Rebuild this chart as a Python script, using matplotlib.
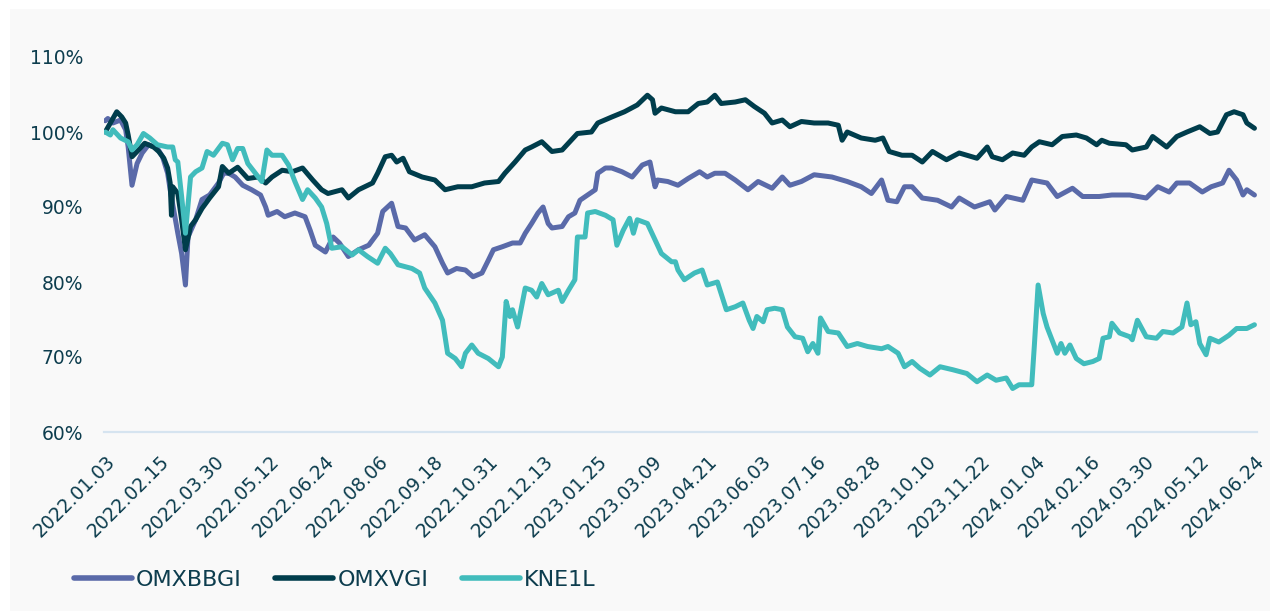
import matplotlib
matplotlib.use('Agg')
import matplotlib.pyplot as plt
from matplotlib.patches import Rectangle
import numpy as np
import pandas as pd

start_date = pd.Timestamp('2022-01-03')

# day offsets from start_date and index level (% of start)
omxbbgi_days = [0, 2, 6, 12, 16, 18, 21, 25, 29, 34, 41, 45, 49, 51, 57, 60, 63, 65, 71, 76,
                82, 89, 93, 97, 102, 108, 115, 122, 126, 128, 135, 141, 149, 157, 161, 165, 173, 179, 184, 191,
                199, 207, 214, 218, 225, 230, 236, 243, 251, 259, 265, 269, 276, 283, 289, 296, 301, 305, 312, 320,
                326, 330, 335, 340, 344, 348, 351, 359, 364, 369, 373, 379, 385, 387, 393, 398, 406, 414, 422, 428,
                432, 434, 442, 450, 458, 467, 473, 479, 487, 495, 505, 513, 524, 532, 538, 547, 557, 571, 583, 594,
                602, 610, 615, 622, 628, 634, 642, 654, 665, 671, 683, 695, 699, 708, 721, 728, 740, 748, 760, 768,
                781, 791, 805, 818, 827, 836, 842, 852, 862, 869, 878, 883, 889, 894, 897, 903]
omxbbgi = [101.5, 101.8, 101.2, 101.6, 100.3, 98.0, 92.9, 95.8, 97.2, 98.3, 97.8, 96.7, 94.5, 92.3, 86.5, 83.8, 79.6, 86.0, 88.3, 91.0,
           91.6, 93.2, 94.5, 94.5, 94.0, 92.9, 92.3, 91.6, 90.0, 88.9, 89.4, 88.7, 89.2, 88.7, 86.9, 84.9, 84.0, 86.0, 85.2, 83.4,
           84.3, 84.9, 86.5, 89.4, 90.5, 87.4, 87.2, 85.6, 86.3, 84.7, 82.5, 81.2, 81.8, 81.6, 80.7, 81.2, 82.9, 84.3, 84.7, 85.2,
           85.2, 86.5, 87.8, 89.2, 90.0, 87.8, 87.2, 87.4, 88.7, 89.2, 90.9, 91.6, 92.3, 94.5, 95.2, 95.2, 94.7, 94.0, 95.6, 96.0,
           92.7, 93.6, 93.4, 92.9, 93.8, 94.7, 94.0, 94.5, 94.5, 93.6, 92.3, 93.4, 92.5, 94.0, 92.9, 93.4, 94.3, 94.0, 93.4, 92.7,
           91.8, 93.6, 90.9, 90.7, 92.7, 92.7, 91.2, 90.9, 90.0, 91.2, 90.0, 90.7, 89.6, 91.4, 90.9, 93.6, 93.2, 91.4, 92.5, 91.4,
           91.4, 91.6, 91.6, 91.2, 92.7, 92.0, 93.2, 93.2, 92.0, 92.7, 93.2, 94.9, 93.6, 91.6, 92.3, 91.6]

omxvgi_days = [0, 4, 9, 13, 16, 18, 21, 25, 31, 38, 42, 46, 49, 51, 52, 53, 57, 60, 63, 67,
               71, 76, 82, 89, 92, 97, 104, 112, 120, 126, 131, 139, 147, 155, 163, 170, 175, 186, 191, 199,
               210, 214, 220, 225, 229, 234, 239, 249, 259, 267, 277, 288, 298, 309, 314, 322, 330, 335, 343, 351,
               359, 365, 371, 382, 387, 398, 408, 418, 426, 430, 432, 437, 448, 458, 466, 473, 479, 484, 495, 503,
               510, 518, 524, 532, 538, 547, 557, 568, 576, 579, 583, 594, 605, 611, 616, 626, 634, 642, 650, 661,
               671, 685, 693, 697, 705, 713, 722, 728, 734, 744, 752, 763, 771, 779, 783, 789, 802, 807, 818, 823,
               834, 842, 850, 860, 868, 874, 881, 887, 894, 897, 903]
omxvgi = [100.0, 101.2, 102.7, 102.0, 101.2, 99.6, 96.7, 97.4, 98.5, 98.0, 97.4, 96.5, 95.2, 93.2, 88.9, 92.7, 91.8, 88.3, 84.3, 87.4,
          88.3, 89.8, 91.2, 92.7, 95.4, 94.5, 95.3, 93.8, 94.0, 93.2, 94.0, 94.9, 94.7, 95.2, 93.6, 92.3, 91.8, 92.3, 91.2, 92.3,
          93.2, 94.5, 96.7, 96.9, 96.0, 96.5, 94.7, 94.0, 93.6, 92.3, 92.7, 92.7, 93.2, 93.4, 94.5, 96.0, 97.6, 98.0, 98.7, 97.4,
          97.6, 98.7, 99.8, 100.0, 101.2, 102.0, 102.7, 103.6, 104.9, 104.3, 102.5, 103.2, 102.7, 102.7, 103.8, 104.0, 104.9, 103.8, 104.0, 104.3,
          103.4, 102.5, 101.2, 101.6, 100.7, 101.4, 101.2, 101.2, 100.9, 98.9, 100.0, 99.2, 98.9, 99.2, 97.4, 96.9, 96.9, 96.0, 97.4, 96.3,
          97.2, 96.5, 98.0, 96.7, 96.3, 97.2, 96.9, 98.0, 98.7, 98.3, 99.4, 99.6, 99.2, 98.3, 98.9, 98.5, 98.3, 97.6, 98.0, 99.4,
          98.0, 99.4, 100.0, 100.7, 99.8, 100.0, 102.3, 102.7, 102.3, 101.2, 100.5]

kne1l_days = [0, 4, 6, 12, 18, 21, 25, 30, 35, 41, 49, 53, 55, 57, 60, 63, 67, 71, 76, 80,
              85, 92, 96, 100, 104, 108, 112, 118, 123, 127, 131, 139, 144, 149, 155, 159, 165, 170, 174, 178,
              186, 194, 199, 206, 214, 220, 224, 230, 241, 247, 251, 259, 265, 269, 275, 280, 283, 288, 293, 301,
              309, 312, 315, 318, 320, 324, 330, 335, 339, 343, 348, 356, 359, 364, 369, 371, 377, 379, 385, 393,
              399, 402, 407, 412, 415, 418, 426, 432, 437, 445, 448, 450, 455, 463, 469, 473, 481, 488, 495, 501,
              506, 509, 512, 517, 520, 526, 532, 536, 542, 548, 552, 556, 560, 562, 568, 576, 583, 591, 599, 610,
              615, 623, 628, 634, 640, 648, 656, 666, 677, 685, 693, 700, 708, 713, 718, 728, 730, 733, 737, 740,
              748, 751, 754, 758, 763, 769, 776, 781, 784, 789, 791, 797, 805, 807, 811, 818, 826, 831, 839, 846,
              850, 853, 857, 860, 865, 868, 875, 883, 889, 897, 903]
kne1l = [100.0, 99.6, 100.3, 99.2, 98.7, 97.6, 98.3, 99.8, 99.2, 98.3, 98.0, 98.0, 96.3, 96.0, 91.4, 86.5, 94.0, 94.7, 95.2, 97.4,
         96.9, 98.5, 98.3, 96.3, 97.8, 97.8, 95.8, 94.5, 93.4, 97.6, 96.9, 96.9, 95.6, 93.4, 91.0, 92.3, 91.2, 90.0, 87.8, 84.5,
         84.7, 83.6, 84.3, 83.4, 82.5, 84.5, 83.8, 82.3, 81.8, 81.2, 79.2, 77.2, 74.9, 70.5, 69.8, 68.7, 70.5, 71.6, 70.5, 69.8,
         68.7, 70.0, 77.4, 75.4, 76.3, 74.0, 79.2, 78.9, 78.0, 79.8, 78.3, 78.9, 77.4, 78.9, 80.3, 86.0, 86.0, 89.2, 89.4, 88.9,
         88.3, 84.9, 86.9, 88.5, 86.5, 88.3, 87.8, 85.6, 83.8, 82.7, 82.7, 81.6, 80.3, 81.2, 81.6, 79.6, 80.0, 76.3, 76.7, 77.2,
         74.9, 73.8, 75.4, 74.7, 76.3, 76.5, 76.3, 74.0, 72.7, 72.5, 70.7, 71.8, 70.5, 75.2, 73.4, 73.2, 71.4, 71.8, 71.4, 71.1,
         71.4, 70.5, 68.7, 69.4, 68.5, 67.6, 68.7, 68.3, 67.8, 66.7, 67.6, 66.9, 67.2, 65.8, 66.3, 66.3, 71.4, 79.6, 75.8, 74.0,
         70.5, 71.8, 70.5, 71.6, 69.8, 69.1, 69.4, 69.8, 72.5, 72.7, 74.5, 73.2, 72.7, 72.3, 74.9, 72.7, 72.5, 73.4, 73.2, 74.0,
         77.2, 74.3, 74.7, 71.8, 70.3, 72.5, 72.0, 72.9, 73.8, 73.8, 74.3]

tick_labels = ['2022.01.03', '2022.02.15', '2022.03.30', '2022.05.12', '2022.06.24', '2022.08.06',
               '2022.09.18', '2022.10.31', '2022.12.13', '2023.01.25', '2023.03.09', '2023.04.21',
               '2023.06.03', '2023.07.16', '2023.08.28', '2023.10.10', '2023.11.22', '2024.01.04',
               '2024.02.16', '2024.03.30', '2024.05.12', '2024.06.24']
y_ticks = [60, 70, 80, 90, 100, 110]

series = [('OMXBBGI', omxbbgi_days, omxbbgi, '#5a6aa9'),
          ('OMXVGI', omxvgi_days, omxvgi, '#003d4c'),
          ('KNE1L', kne1l_days, kne1l, '#41bcbc')]

text_color = '#0d3d4e'

fig = plt.figure(figsize=(12.7, 6.11), dpi=100)
fig.patch.set_facecolor('white')
fig.add_artist(Rectangle((10 / 1270, 0), 1, 602 / 611, transform=fig.transFigure,
                         facecolor='#f9f9f9', edgecolor='none', zorder=0))

ax = fig.add_axes([104 / 1270, 179 / 611, 1153 / 1270, 375 / 611])
ax.set_facecolor('none')

for name, days, vals, col in series:
    x = start_date + pd.to_timedelta(days, unit='D')
    ax.plot(x, vals, color=col, lw=3.6, label=name,
            solid_joinstyle='round', solid_capstyle='round')

ax.set_ylim(60, 110)
ax.set_xlim(start_date - pd.Timedelta(days=1), start_date + pd.Timedelta(days=905))
ax.set_yticks(y_ticks)
ax.set_yticklabels([f'{v}%' for v in y_ticks])

tick_pos = pd.to_datetime(tick_labels, format='%Y.%m.%d')
ax.set_xticks(tick_pos)
ax.set_xticklabels(tick_labels, rotation=45, ha='right', va='top', rotation_mode='anchor')

ax.tick_params(axis='both', length=0, colors=text_color, labelsize=13.5)
ax.tick_params(axis='y', pad=15)
ax.tick_params(axis='x', pad=14)

for s in ['top', 'right', 'left']:
    ax.spines[s].set_visible(False)
ax.spines['bottom'].set_color('#d6e4f0')
ax.spines['bottom'].set_linewidth(1.6)
ax.grid(False)

leg = fig.legend(loc='center left', bbox_to_anchor=(74 / 1270, 1 - 580 / 611), ncol=3,
                 frameon=False, fontsize=16, handlelength=2.6, handletextpad=0.2,
                 columnspacing=1.5, borderpad=0, borderaxespad=0)
for t in leg.get_texts():
    t.set_color(text_color)
for h in leg.get_lines():
    h.set_linewidth(4)
    h.set_solid_capstyle('round')

fig.savefig('out.png', dpi=100)
